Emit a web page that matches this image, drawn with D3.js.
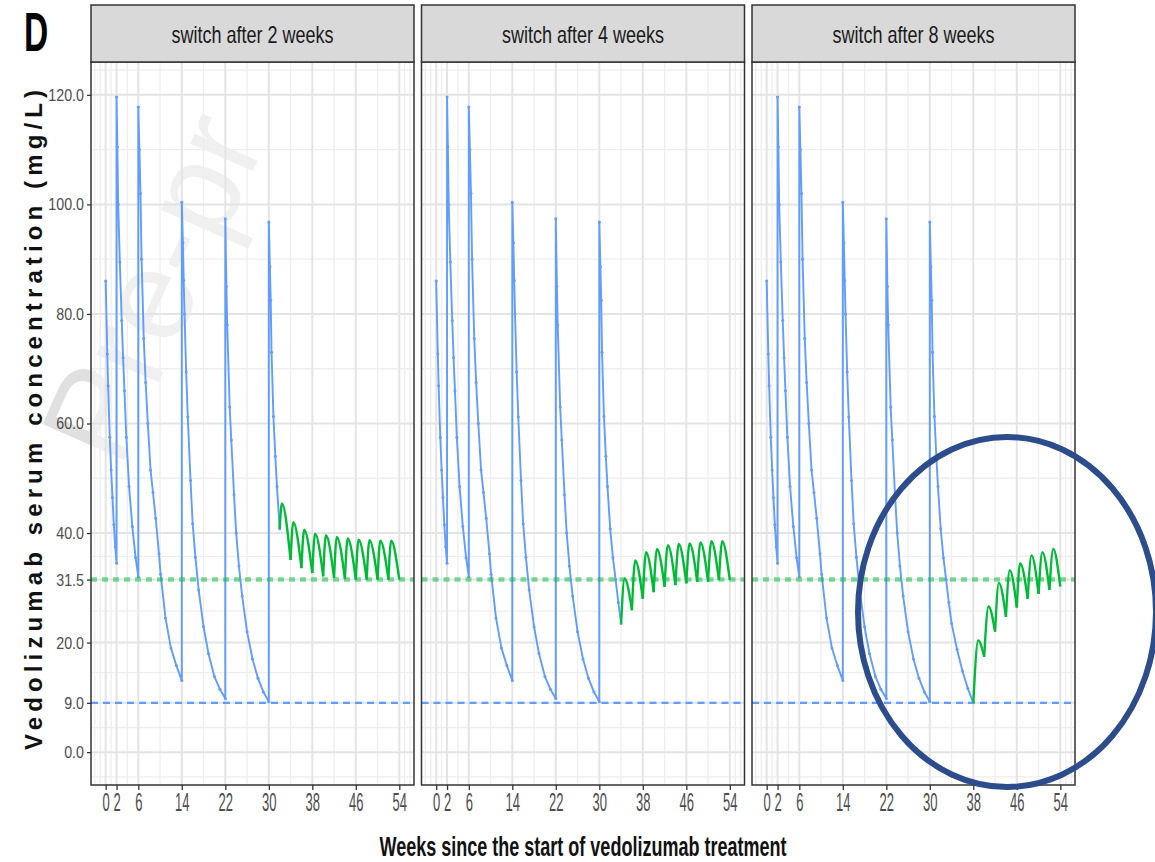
<!DOCTYPE html>
<html>
<head>
<meta charset="utf-8">
<script src="https://cdn.jsdelivr.net/npm/d3@7"></script>
<style>
  body { margin: 0; background: #ffffff; }
  svg { display: block; }
</style>
</head>
<body>
<svg id="chart" width="1155" height="862"></svg>
<script>
// ---- data -------------------------------------------------------------
const panelTitles = ["switch after 2 weeks", "switch after 4 weeks", "switch after 8 weeks"];
const switchWeeks = [32, 34, 38];
const xTicks = [0, 2, 6, 14, 22, 30, 38, 46, 54];
const yTicks = [0, 9, 20, 31.5, 40, 60, 80, 100, 120];
const targetTrough = 31.5;   // SC target trough (mg/L)
const ivTrough = 9.0;        // IV trough reference (mg/L)

// IV vedolizumab concentrations, weeks 0-30 (common to all scenarios)
const blueInduction = [
  [0, 86.0], [0.3, 72.7], [0.45, 66.9], [0.75, 57.5], [1.0, 51.5], [1.25, 46.5], [1.5, 41.5], [1.75, 37.5], [2, 34.5],
  [2, 119.6], [2.15, 110.5], [2.3, 100.0], [2.6, 89.5], [2.95, 78.8], [3.2, 72.0], [3.45, 66.0], [3.8, 57.5], [4.3, 48.5], [4.9, 41.2], [5.5, 35.5], [6, 32.0],
  [6, 117.8], [6.2, 110.0], [6.4, 102.0], [6.6, 90.0], [7.0, 75.5], [7.35, 67.5], [7.75, 60.0], [8.25, 51.5], [8.7, 47.4], [9.2, 42.7], [9.8, 36.2], [10.1, 32.5], [11, 24.5], [12, 19.0], [13, 15.8], [14, 13.1],
  [14, 100.4], [14.2, 93.0], [14.35, 86.1], [14.5, 80.0], [14.8, 69.4], [15.1, 61.2], [15.6, 49.6], [16, 41.7], [16.5, 35.6], [17.1, 29.6], [18, 22.9], [18.9, 18.0], [20, 13.8], [21, 11.5], [22, 9.8],
  [22, 97.4], [22.2, 85.0], [22.35, 78.0], [22.8, 63.0], [23.1, 57.0], [23.6, 47.0], [24, 40.0], [24.5, 34.0], [25.1, 28.5], [26, 22.0], [27, 17.0], [28, 13.5], [29, 11.0], [30, 9.2],
  [30, 96.8]
];
// decay after the last IV dose, cut at the switch week of each scenario
const blueTail = [
  [30.2, 88.6], [30.35, 82.5], [30.5, 73.0], [30.85, 61.3], [31.2, 54.0], [31.5, 48.5], [32, 40.8],
  [32.5, 35.5], [33, 31.5], [33.5, 27.3], [34, 23.5], [35, 18.8], [36, 14.8], [37, 11.6], [38, 9.0]
];
// SC concentrations after the switch (trough, peak, trough, ...)
const greenSwitch2 = [
  [32, 40.8], [32.4, 45.4], [34, 35.1], [34.5, 42.0], [36, 33.6], [36.5, 40.6], [38, 32.7], [38.5, 39.9],
  [40, 32.1], [40.5, 39.6], [42, 31.8], [42.5, 39.3], [44, 31.6], [44.5, 39.0], [46, 31.5], [46.5, 38.8],
  [48, 31.5], [48.5, 38.7], [50, 31.5], [50.5, 38.6], [52, 31.5], [52.5, 38.6], [54, 31.5]
];
const greenSwitch4 = [
  [34, 23.5], [34.65, 31.7], [36, 25.9], [36.6, 35.0], [38, 28.0], [38.6, 36.5], [40, 29.2], [40.6, 37.1],
  [42, 30.2], [42.6, 37.8], [44, 30.5], [44.6, 38.0], [46, 30.8], [46.6, 38.1], [48, 31.1], [48.6, 38.3],
  [50, 31.1], [50.6, 38.5], [52, 31.4], [52.6, 38.5], [54, 31.4]
];
const greenSwitch8 = [
  [38, 9.0], [38.9, 20.4], [40, 17.4], [40.8, 26.6], [42, 22.0], [42.7, 30.9], [44, 24.7], [44.7, 33.2],
  [46, 26.4], [46.6, 34.5], [48, 28.0], [48.7, 35.9], [50, 28.9], [50.7, 36.5], [52, 29.6], [52.7, 37.1], [54, 30.2]
];
const greenSeries = [greenSwitch2, greenSwitch4, greenSwitch8];

// ---- layout -----------------------------------------------------------
const panelLeft = [91, 421.5, 752];
const panelW = 323;
const stripTop = 5, plotTop = 62, plotBottom = 785;
const BLUE = "#619CFF", GREEN = "#00BA38";
const SANS = "'Liberation Sans', Arial, sans-serif";

const svg = d3.select("#chart");

// faint document watermark behind the figure
svg.append("text").attr("transform", "translate(120,470) rotate(-66)")
  .attr("font-family", SANS).attr("font-size", 130)
  .attr("fill", "#000000").attr("fill-opacity", 0.12).text("Pre-pr");

const x = d3.scaleLinear().domain([-2.7, 56.7]).range([0, panelW]);
const y = d3.scaleLinear().domain([-6, 126]).range([plotBottom, plotTop]);

// ggplot-style minor breaks (midpoints, extended by the first break step)
function minorBreaks(b, dom) {
  const step = b[1] - b[0];
  let ext = b.slice();
  if (dom[0] < b[0]) ext.unshift(b[0] - step);
  if (dom[1] > b[b.length - 1]) ext.push(b[b.length - 1] + step);
  const out = [];
  for (let i = 0; i < ext.length - 1; i++) out.push(ext[i], (ext[i] + ext[i + 1]) / 2);
  out.push(ext[ext.length - 1]);
  return out.filter(v => v >= dom[0] && v <= dom[1] && !b.includes(v));
}
const xMinor = minorBreaks(xTicks, x.domain());
const yMinor = minorBreaks(yTicks, y.domain());

const lineLinear = d3.line().x(d => x(d[0])).y(d => y(d[1]));
const lineSmooth = d3.line().x(d => x(d[0])).y(d => y(d[1])).curve(d3.curveMonotoneX);

panelTitles.forEach((title, i) => {
  const g = svg.append("g").attr("transform", `translate(${panelLeft[i]},0)`);

  // panel background (semi-transparent so the watermark stays visible)
  g.append("rect").attr("x", 0).attr("y", plotTop).attr("width", panelW).attr("height", plotBottom - plotTop)
    .attr("fill", "#ffffff").attr("fill-opacity", 0.5);

  // grid
  const grid = g.append("g");
  grid.selectAll(".vminor").data(xMinor).join("line")
    .attr("x1", d => x(d)).attr("x2", d => x(d)).attr("y1", plotTop).attr("y2", plotBottom)
    .attr("stroke", "#eeeeee").attr("stroke-width", 1.3);
  grid.selectAll(".hminor").data(yMinor).join("line")
    .attr("x1", 0).attr("x2", panelW).attr("y1", d => y(d)).attr("y2", d => y(d))
    .attr("stroke", "#eeeeee").attr("stroke-width", 1.3);
  grid.selectAll(".vmajor").data(xTicks).join("line")
    .attr("x1", d => x(d)).attr("x2", d => x(d)).attr("y1", plotTop).attr("y2", plotBottom)
    .attr("stroke", "#e4e4e4").attr("stroke-width", 2);
  grid.selectAll(".hmajor").data(yTicks).join("line")
    .attr("x1", 0).attr("x2", panelW).attr("y1", d => y(d)).attr("y2", d => y(d))
    .attr("stroke", "#e4e4e4").attr("stroke-width", 2);

  // IV concentration course
  const blue = blueInduction.concat(blueTail.filter(d => d[0] <= switchWeeks[i]));
  g.append("path").datum(blue).attr("d", lineLinear)
    .attr("fill", "none").attr("stroke", BLUE).attr("stroke-width", 1.9).attr("stroke-linejoin", "round");
  g.selectAll(".dot").data(blue).join("circle")
    .attr("cx", d => x(d[0])).attr("cy", d => y(d[1])).attr("r", 1.5).attr("fill", BLUE);

  // reference troughs
  g.append("line").attr("x1", 0).attr("x2", panelW).attr("y1", y(ivTrough)).attr("y2", y(ivTrough))
    .attr("stroke", BLUE).attr("stroke-width", 2.4).attr("stroke-dasharray", "7,5");
  g.append("line").attr("x1", 0).attr("x2", panelW).attr("y1", y(targetTrough)).attr("y2", y(targetTrough))
    .attr("stroke", GREEN).attr("stroke-opacity", 0.5).attr("stroke-width", 4.5).attr("stroke-dasharray", "6,5");

  // SC concentration course, one arch per dosing interval
  const gs = greenSeries[i];
  const arches = [];
  for (let k = 0; k + 2 < gs.length; k += 2) arches.push(gs.slice(k, k + 3));
  g.selectAll(".arch").data(arches).join("path").attr("d", lineSmooth)
    .attr("fill", "none").attr("stroke", GREEN).attr("stroke-width", 2.4).attr("stroke-linejoin", "round");

  // panel border
  g.append("rect").attr("x", 0).attr("y", plotTop).attr("width", panelW).attr("height", plotBottom - plotTop)
    .attr("fill", "none").attr("stroke", "#333333").attr("stroke-width", 1.5);

  // facet strip
  g.append("rect").attr("x", 0).attr("y", stripTop).attr("width", panelW).attr("height", plotTop - stripTop)
    .attr("fill", "#d9d9d9").attr("stroke", "#333333").attr("stroke-width", 1.5);
  g.append("text").attr("x", panelW / 2).attr("y", 43).attr("text-anchor", "middle")
    .attr("font-family", SANS).attr("font-size", 24).attr("fill", "#1a1a1a")
    .attr("textLength", 162).attr("lengthAdjust", "spacingAndGlyphs")
    .text(title);

  // x axis
  const xa = g.append("g").attr("transform", `translate(0,${plotBottom})`)
    .call(d3.axisBottom(x).tickValues(xTicks).tickSize(5).tickPadding(3));
  xa.select(".domain").remove();
  xa.selectAll(".tick line").attr("stroke", "#333333").attr("stroke-width", 1.3);
  xa.selectAll(".tick text").attr("font-family", SANS).attr("font-size", 25).attr("fill", "#4d4d4d")
    .attr("dy", "0.71em").attr("transform", "scale(0.52,1)");

  if (i === 0) {
    const ya = g.append("g").call(d3.axisLeft(y).tickValues(yTicks).tickFormat(d3.format(".1f")).tickSize(4).tickPadding(3));
    ya.select(".domain").remove();
    ya.selectAll(".tick line").attr("stroke", "#333333").attr("stroke-width", 1.3);
    ya.selectAll(".tick text").attr("font-family", SANS).attr("font-size", 17).attr("fill", "#4d4d4d")
      .attr("x", -7 / 0.84).attr("transform", "scale(0.84,1)");
  }
});

// axis titles
svg.append("text").attr("transform", "translate(42,420) rotate(-90)").attr("text-anchor", "middle")
  .attr("font-family", SANS).attr("font-weight", "bold").attr("font-size", 24)
  .attr("fill", "#111111").attr("textLength", 660).attr("lengthAdjust", "spacing")
  .text("Vedolizumab serum concentration (mg/L)");
svg.append("text").attr("x", 583).attr("y", 856).attr("text-anchor", "middle")
  .attr("font-family", SANS).attr("font-weight", "bold").attr("font-size", 27).attr("fill", "#111111")
  .attr("textLength", 407).attr("lengthAdjust", "spacingAndGlyphs")
  .text("Weeks since the start of vedolizumab treatment");

// panel tag
svg.append("text").attr("transform", "translate(24,51) scale(0.6,1)")
  .attr("font-family", SANS).attr("font-weight", "bold").attr("font-size", 56)
  .attr("fill", "#000000").text("D");

// highlight ellipse
svg.append("ellipse").attr("cx", 1007).attr("cy", 612).attr("rx", 149).attr("ry", 175)
  .attr("fill", "none").attr("stroke", "#2c4c8c").attr("stroke-width", 6);
</script>
</body>
</html>
